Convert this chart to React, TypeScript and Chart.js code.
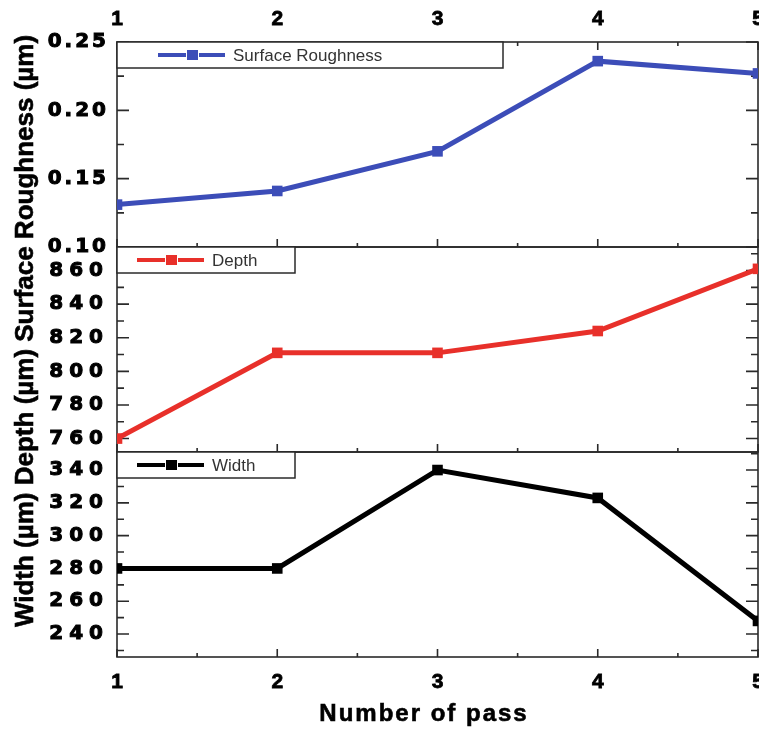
import React, { useEffect, useRef } from 'react';
import { Chart, registerables } from 'chart.js';

Chart.register(...registerables);

// ---------- data ----------
const passes = [1, 2, 3, 4, 5];
const roughness = [0.131, 0.141, 0.17, 0.236, 0.227];
const depth = [760, 811, 811, 824, 861];
const widthVals = [280, 280, 340, 323, 248];

const roughTicks = [0.1, 0.15, 0.2, 0.25];
const depthTicks = [760, 780, 800, 820, 840, 860];
const widthTicks = [240, 260, 280, 300, 320, 340];

const seriesNames = ['Surface Roughness', 'Depth', 'Width'];
const yTitle = 'Width (µm) Depth (µm) Surface Roughness (µm)';
const xTitle = 'Number of pass';

const BLUE = '#3c4db8';
const RED = '#e8302a';
const BLACK = '#000000';
const FRAME = '#2a2a2a';

const tickSets: Record<string, number[]> = { y1: roughTicks, y2: depthTicks, y3: widthTicks };
const spacingFor: Record<string, string> = { y1: '3px', y2: '6px', y3: '6px' };
const legendCfg = [
  { id: 'y1', w: 386, ls: 41 },
  { id: 'y2', w: 178, ls: 20 },
  { id: 'y3', w: 178, ls: 20 },
];

const panelPlugin = {
  id: 'panelPlugin',
  beforeDraw(chart: any) {
    for (const id of Object.keys(spacingFor)) {
      const s: any = chart.scales[id];
      if (s && !s.__patched) {
        const orig = s.drawLabels.bind(s);
        s.drawLabels = (area: any) => {
          const c = s.ctx;
          c.save();
          c.letterSpacing = spacingFor[id];
          orig(area);
          c.restore();
        };
        s.__patched = true;
      }
    }
  },
  beforeDatasetsDraw(chart: any) {
    const ctx = chart.ctx;
    const xs = chart.scales.x;
    const { left, right } = chart.chartArea;
    ctx.save();
    ctx.strokeStyle = FRAME;
    ctx.lineWidth = 1.6;
    for (const id of ['y1', 'y2', 'y3']) {
      const s = chart.scales[id];
      const top = s.top;
      const bottom = s.bottom;
      ctx.strokeRect(left, top, right - left, bottom - top);
      const major = tickSets[id];
      const step = major[1] - major[0];
      ctx.beginPath();
      for (const v of major) {
        const y = s.getPixelForValue(v);
        if (y < top - 0.5 || y > bottom + 0.5) continue;
        ctx.moveTo(left, y); ctx.lineTo(left + 12, y);
        ctx.moveTo(right, y); ctx.lineTo(right - 12, y);
      }
      for (let k = -1; k < major.length; k++) {
        const v = major[0] + (k + 0.5) * step;
        const y = s.getPixelForValue(v);
        if (y < top + 1 || y > bottom - 1) continue;
        ctx.moveTo(left, y); ctx.lineTo(left + 7, y);
        ctx.moveTo(right, y); ctx.lineTo(right - 7, y);
      }
      for (let i = 0; i < passes.length; i++) {
        const x = xs.getPixelForValue(passes[i]);
        ctx.moveTo(x, bottom); ctx.lineTo(x, bottom - 8);
        if (id === 'y1') { ctx.moveTo(x, top); ctx.lineTo(x, top + 8); }
        if (i < passes.length - 1) {
          const xm = xs.getPixelForValue((passes[i] + passes[i + 1]) / 2);
          ctx.moveTo(xm, bottom); ctx.lineTo(xm, bottom - 4);
          if (id === 'y1') { ctx.moveTo(xm, top); ctx.lineTo(xm, top + 4); }
        }
      }
      ctx.stroke();
    }
    ctx.restore();
  },
  afterDatasetsDraw(chart: any) {
    const ctx = chart.ctx;
    const L = chart.chartArea.left;
    chart.data.datasets.forEach((d: any, i: number) => {
      const cfg = legendCfg[i];
      const s = chart.scales[cfg.id];
      const top = s.top;
      const h = 26;
      ctx.save();
      ctx.fillStyle = '#ffffff';
      ctx.fillRect(L, top, cfg.w, h);
      ctx.strokeStyle = FRAME;
      ctx.lineWidth = 1.5;
      ctx.strokeRect(L, top, cfg.w, h);
      const cy = top + h / 2;
      const x0 = L + cfg.ls;
      ctx.strokeStyle = d.borderColor;
      ctx.lineWidth = 4;
      ctx.beginPath();
      ctx.moveTo(x0, cy); ctx.lineTo(x0 + 28, cy);
      ctx.moveTo(x0 + 41, cy); ctx.lineTo(x0 + 67, cy);
      ctx.stroke();
      ctx.fillStyle = d.borderColor;
      ctx.fillRect(x0 + 29, cy - 5, 11, 10);
      ctx.fillStyle = '#333333';
      ctx.font = '17px "Liberation Sans", Arial, sans-serif';
      ctx.textBaseline = 'middle';
      ctx.textAlign = 'left';
      ctx.fillText(d.label, x0 + 75, cy + 1);
      ctx.restore();
    });

    // axis titles
    ctx.save();
    ctx.fillStyle = '#000000';
    ctx.strokeStyle = '#000000';
    ctx.lineWidth = 0.6;
    ctx.font = 'bold 26px "Liberation Sans", Arial, sans-serif';
    ctx.textAlign = 'center';
    ctx.textBaseline = 'alphabetic';
    ctx.translate(33, 331);
    ctx.rotate(-Math.PI / 2);
    ctx.fillText(yTitle, 0, 0);
    ctx.strokeText(yTitle, 0, 0);
    ctx.restore();

    ctx.save();
    ctx.fillStyle = '#000000';
    ctx.strokeStyle = '#000000';
    ctx.lineWidth = 0.6;
    ctx.font = 'bold 24px "Liberation Sans", Arial, sans-serif';
    (ctx as any).letterSpacing = '2px';
    ctx.textAlign = 'center';
    ctx.textBaseline = 'middle';
    ctx.fillText(xTitle, L + 307, 714);
    ctx.strokeText(xTitle, L + 307, 714);
    ctx.restore();
  },
};

const xTickFont = { family: '"Liberation Sans", Arial, sans-serif', size: 21, weight: 'bold' as const };
const yTickFont = { family: '"DejaVu Sans", sans-serif', size: 20, weight: 'bold' as const };

function yScale(min: number, max: number, ticks: number[], pad: number, fmt: (v: number) => string) {
  return {
    type: 'linear' as const,
    position: 'left' as const,
    stack: 'panels',
    stackWeight: 1,
    min,
    max,
    grid: { display: false },
    border: { display: false },
    afterBuildTicks: (s: any) => { s.ticks = ticks.map((v) => ({ value: v })); },
    afterFit: (s: any) => { s.width = 117; },
    ticks: {
      autoSkip: false,
      padding: pad,
      color: '#000',
      textStrokeColor: '#000',
      textStrokeWidth: 1,
      font: yTickFont,
      callback: (v: any) => fmt(Number(v)),
    },
  };
}

function xScale(position: 'top' | 'bottom', h: number, pad: number) {
  return {
    type: 'linear' as const,
    position,
    min: passes[0],
    max: passes[passes.length - 1],
    grid: { display: false },
    border: { display: false },
    afterBuildTicks: (s: any) => { s.ticks = passes.map((v) => ({ value: v })); },
    afterFit: (s: any) => { s.height = h; },
    ticks: {
      autoSkip: false,
      maxRotation: 0,
      padding: pad,
      color: '#000',
      textStrokeColor: '#000',
      textStrokeWidth: 0.8,
      font: xTickFont,
    },
  };
}

export default function App() {
  const ref = useRef<HTMLCanvasElement>(null);
  useEffect(() => {
    const canvas = ref.current!;
    const mk = (vals: number[]) => passes.map((p, i) => ({ x: p, y: vals[i] }));
    const ds = (label: string, vals: number[], color: string, yAxisID: string) => ({
      label,
      data: mk(vals),
      xAxisID: 'x',
      yAxisID,
      borderColor: color,
      backgroundColor: color,
      borderWidth: 5,
      pointStyle: 'rect',
      pointRadius: 7.5,
      pointBorderWidth: 0,
      pointBackgroundColor: color,
      tension: 0,
    });
    const chart = new Chart(canvas, {
      type: 'line',
      data: {
        datasets: [
          ds(seriesNames[0], roughness, BLUE, 'y1'),
          ds(seriesNames[1], depth, RED, 'y2'),
          ds(seriesNames[2], widthVals, BLACK, 'y3'),
        ] as any,
      },
      options: {
        responsive: false,
        animation: false,
        devicePixelRatio: 1,
        events: [],
        layout: { padding: { left: 0, top: 0, right: 42, bottom: 0 } },
        plugins: { legend: { display: false }, tooltip: { enabled: false } },
        scales: {
          x: xScale('bottom', 72, 5),
          x2: xScale('top', 42, 2),
          y3: yScale(226, 351, widthTicks, 0, (v) => String(v)),
          y2: yScale(752, 874, depthTicks, 0, (v) => String(v)),
          y1: yScale(0.1, 0.25, roughTicks, 0, (v) => v.toFixed(2)),
        } as any,
      },
      plugins: [panelPlugin],
    });
    return () => chart.destroy();
  }, []);
  return (
    <div style={{ position: 'absolute', left: 0, top: 0, width: 759, height: 729, overflow: 'hidden', background: '#fff' }}>
      <canvas ref={ref} width={800} height={729} style={{ display: 'block' }} />
    </div>
  );
}
